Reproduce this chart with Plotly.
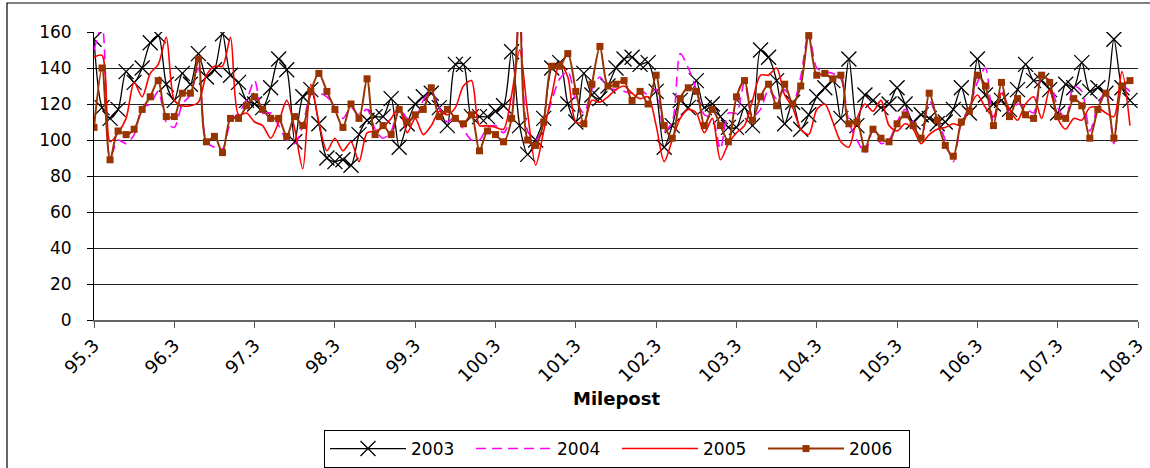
import plotly.graph_objects as go

# Milepost categories (0.1 mile steps from 95.3)
milepost = [round(95.3 + 0.1 * i, 1) for i in range(130)]

tick_labels = ["95.3", "96.3", "97.3", "98.3", "99.3", "100.3", "101.3",
               "102.3", "103.3", "104.3", "105.3", "106.3", "107.3", "108.3"]
tick_values = [95.3, 96.3, 97.3, 98.3, 99.3, 100.3, 101.3,
               102.3, 103.3, 104.3, 105.3, 106.3, 107.3, 108.3]

y2003 = [156, 118, 112, 117, 138, 132, 140, 154, 158, 131,
         122, 137, 131, 148, 135, 139, 159, 136, 132, 122,
         120, 118, 129, 145, 139, 99, 124, 128, 109, 90,
         88, 89, 86, 103, 111, 113, 113, 123, 96, 109,
         120, 124, 126, 118, 108, 142, 142, 113, 113, 113,
         116, 119, 149, 108, 92, 100, 112, 140, 143, 120,
         110, 137, 125, 123, 130, 140, 145, 146, 142, 143,
         127, 96, 108, 122, 118, 133, 118, 120, 113, 107,
         107, 118, 108, 150, 146, 133, 109, 121, 106, 114,
         124, 129, 133, 112, 145, 108, 125, 122, 118, 120,
         129, 120, 110, 114, 112, 109, 110, 117, 129, 115,
         145, 125, 120, 122, 117, 128, 142, 133, 133, 128,
         115, 131, 129, 143, 127, 129, 126, 156, 129, 122]

y2004 = [150, 163, 90, 100, 98, 103, 118, 120, 127, 110,
         107, 120, 125, 140, 99, 96, 95, 110, 115, 122,
         133, 115, 115, 108, 100, 98, 108, 125, 126, 124,
         118, 112, 118, 114, 117, 106, 101, 105, 118, 112,
         112, 122, 127, 118, 110, 113, 106, 100, 100, 107,
         108, 104, 115, 175, 105, 100, 108, 122, 134, 138,
         122, 115, 128, 135, 129, 128, 127, 126, 128, 125,
         128, 105, 110, 148, 140, 128, 114, 112, 95, 115,
         115, 132, 113, 117, 128, 123, 128, 120, 135, 160,
         140, 138, 137, 134, 110, 100, 93, 105, 98, 100,
         110, 117, 110, 100, 122, 112, 100, 88, 110, 118,
         132, 140, 110, 128, 115, 120, 118, 115, 135, 133,
         118, 112, 130, 127, 105, 119, 127, 98, 130, 127]

y2005 = [146, 147, 99, 104, 112, 132, 124, 137, 142, 157,
         122, 119, 119, 121, 136, 141, 141, 157, 114, 115,
         110, 108, 101, 110, 122, 106, 84, 131, 110, 94,
         101, 94, 99, 88, 104, 105, 107, 112, 118, 104,
         112, 103, 108, 116, 114, 118, 130, 133, 108, 108,
         107, 106, 125, 150, 115, 86, 105, 125, 143, 135,
         110, 110, 122, 121, 124, 128, 130, 126, 123, 124,
         108, 88, 100, 112, 117, 115, 104, 112, 89, 98,
         104, 108, 122, 136, 136, 140, 125, 118, 106, 103,
         117, 120, 110, 99, 96, 112, 120, 116, 122, 108,
         105, 109, 106, 98, 103, 106, 107, 109, 108, 118,
         125, 118, 113, 126, 117, 111, 120, 124, 112, 128,
         112, 106, 112, 111, 118, 118, 115, 113, 138, 108]

y2006 = [107, 140, 89, 105, 103, 106, 117, 124, 133, 113,
         113, 126, 126, 145, 99, 102, 93, 112, 112, 119,
         124, 117, 112, 112, 102, 113, 108, 127, 137, 127,
         117, 107, 120, 112, 134, 103, 108, 103, 117, 110,
         114, 117, 129, 113, 117, 112, 109, 114, 94, 105,
         103, 99, 112, 172, 100, 97, 110, 141, 141, 148,
         127, 109, 131, 152, 130, 131, 133, 122, 127, 120,
         136, 108, 101, 123, 129, 127, 108, 117, 108, 99,
         124, 133, 111, 124, 131, 119, 131, 120, 130, 158,
         136, 137, 134, 136, 109, 110, 95, 106, 101, 99,
         109, 114, 108, 101, 126, 111, 97, 91, 110, 116,
         136, 130, 108, 132, 113, 123, 114, 112, 136, 132,
         113, 112, 123, 119, 101, 117, 126, 101, 130, 133]

FONT = "DejaVu Sans, Liberation Sans, Arial, sans-serif"

fig = go.Figure()
fig.add_trace(go.Scatter(
    x=milepost, y=y2003, name="2003", mode="lines+markers",
    line=dict(color="#000000", width=1.3, shape="spline", smoothing=0.8),
    marker=dict(symbol="x-thin", size=15, line=dict(color="#000000", width=1.3)),
))
fig.add_trace(go.Scatter(
    x=milepost, y=y2004, name="2004", mode="lines",
    line=dict(color="#FF00FF", width=1.6, dash="10px,6px", shape="spline", smoothing=0.8),
))
fig.add_trace(go.Scatter(
    x=milepost, y=y2005, name="2005", mode="lines",
    line=dict(color="#FF0000", width=1.6, shape="spline", smoothing=0.8),
))
fig.add_trace(go.Scatter(
    x=milepost, y=y2006, name="2006", mode="lines+markers",
    line=dict(color="#993300", width=2, shape="spline", smoothing=0.8),
    marker=dict(symbol="square", size=7, color="#993300"),
))

L, R, T, B = 94, 12, 32, 148
W, H = 1150, 468
pw, ph = W - L - R, H - T - B

def px(xpix):
    return (xpix - L) / pw

def py(ypix):
    return (H - B - ypix) / ph

fig.update_layout(
    width=W, height=H,
    margin=dict(l=L, r=R, t=T, b=B, pad=0, autoexpand=False),
    paper_bgcolor="white", plot_bgcolor="white",
    font=dict(family=FONT, size=16, color="black"),
    showlegend=True,
    legend=dict(
        orientation="h", x=px(617), y=py(449), xanchor="center", yanchor="middle",
        bordercolor="black", borderwidth=1, bgcolor="white",
        font=dict(family=FONT, size=17, color="black"),
        itemwidth=76, entrywidth=55, tracegroupgap=0,
    ),
    xaxis=dict(
        range=[95.3, 108.3], tickmode="array", tickvals=tick_values, ticktext=tick_labels,
        tickangle=-45, ticks="outside", ticklen=6, tickcolor="#555555",
        showline=True, linecolor="#666666", linewidth=1.5,
        showgrid=False, zeroline=False, automargin=False,
        tickfont=dict(family=FONT, size=18, color="black"),
    ),
    yaxis=dict(
        range=[0, 160], tickmode="array", tickvals=[0, 20, 40, 60, 80, 100, 120, 140, 160],
        ticks="outside", ticklen=6, tickcolor="#000000",
        showline=True, linecolor="#000000", linewidth=1,
        showgrid=True, gridcolor="#222222", gridwidth=1, zeroline=False, automargin=False,
        tickfont=dict(family=FONT, size=17, color="black"),
        ticklabelstandoff=12,
    ),
    annotations=[dict(
        text="<b>Milepost</b>", x=0.5, y=py(398), xref="paper", yref="paper",
        showarrow=False, xanchor="center", yanchor="middle",
        font=dict(family=FONT, size=18, color="black"),
    )],
    shapes=[dict(
        type="rect", xref="paper", yref="paper",
        x0=px(7), x1=px(1170), y0=py(490), y1=py(3),
        line=dict(color="black", width=1.2), fillcolor="rgba(0,0,0,0)", layer="below",
    )],
)

fig.write_html(
    "out.html",
    config={"displayModeBar": False},
    post_script="document.body.style.margin='0';document.body.style.overflow='hidden';",
)
